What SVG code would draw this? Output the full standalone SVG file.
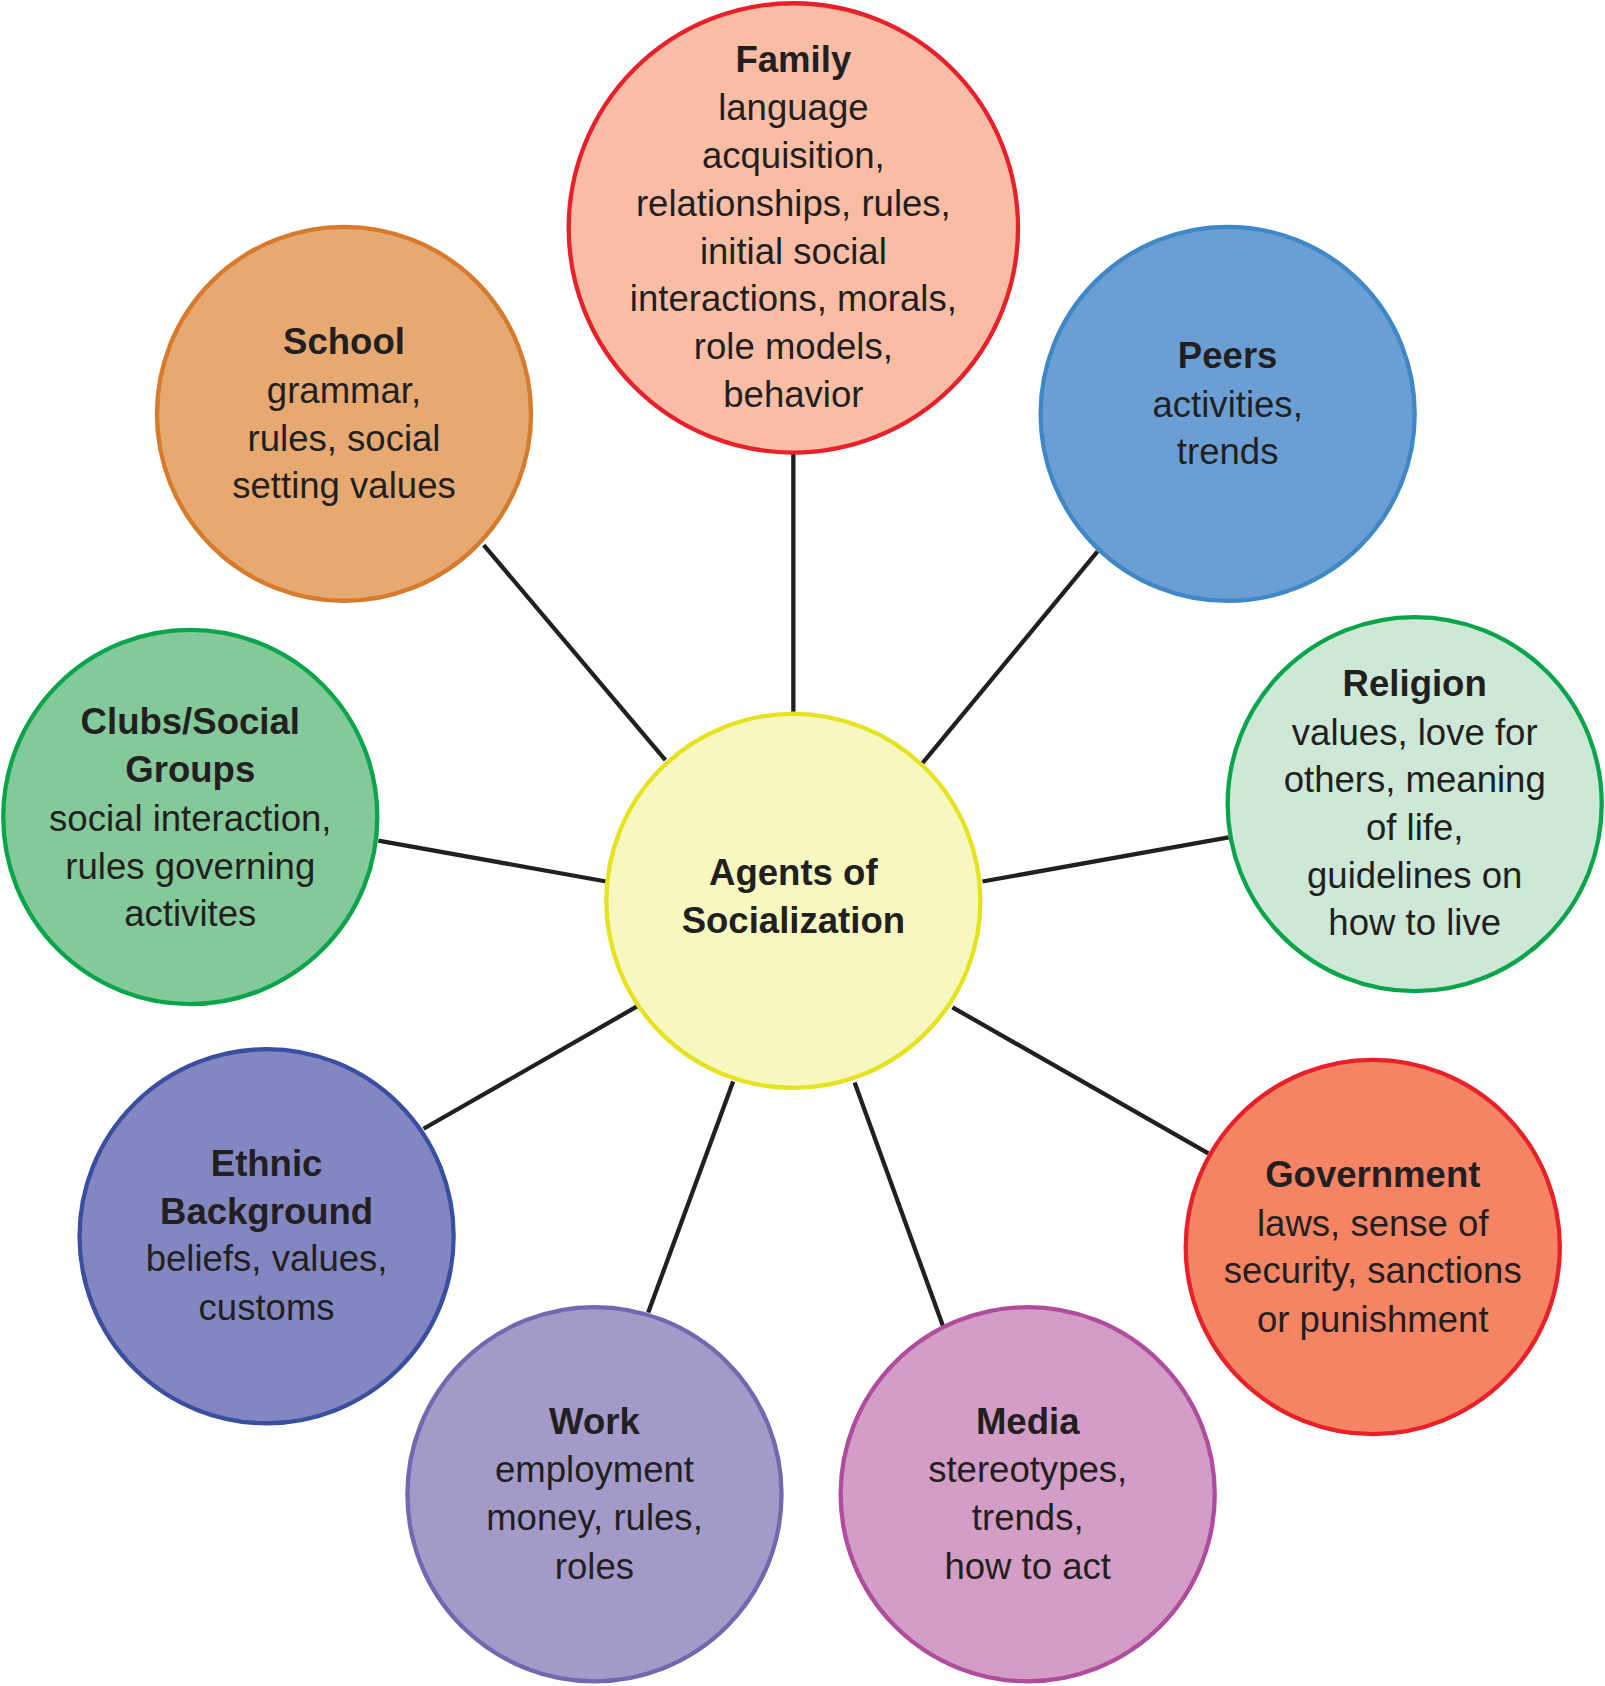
<svg xmlns="http://www.w3.org/2000/svg" width="1605" height="1686" viewBox="0 0 1605 1686">
<style>
text{font-family:"Liberation Sans",Arial,sans-serif;font-size:34px;fill:#231f20;text-anchor:middle;dominant-baseline:central}
.b{font-weight:bold}
circle{stroke-width:4}
#connectors line{stroke:#231f20;stroke-width:4}
</style>
<rect width="1605" height="1686" fill="#fff"/>
<g transform="scale(1.075)">
<g id="connectors">
<line x1="738" y1="422" x2="738" y2="662"/>
<line x1="450" y1="507" x2="619" y2="707"/>
<line x1="1021" y1="513" x2="858" y2="710"/>
<line x1="352" y1="782" x2="564" y2="820"/>
<line x1="1143" y1="779" x2="914" y2="820"/>
<line x1="394" y1="1050" x2="593" y2="936"/>
<line x1="1124" y1="1073" x2="886" y2="937"/>
<line x1="603" y1="1221" x2="682" y2="1006"/>
<line x1="877" y1="1233" x2="795" y2="1007"/>
</g>
<g id="center"><circle cx="738" cy="838" r="174" fill="#f7f7c0" stroke="#e6e21f"/>
<text class="b" x="738" y="812">Agents of</text><text class="b" x="738" y="856">Socialization</text></g>
<g id="family"><circle cx="738" cy="212" r="209" fill="#f9bca5" stroke="#e8202a"/>
<text class="b" x="738" y="55">Family</text><text x="738" y="100">language</text><text x="738" y="145">acquisition,</text><text x="738" y="189">relationships, rules,</text><text x="738" y="234">initial social</text><text x="738" y="278">interactions, morals,</text><text x="738" y="322">role models,</text><text x="738" y="367">behavior</text></g>
<g id="school"><circle cx="320" cy="385" r="174" fill="#e6a972" stroke="#d77a2b"/>
<text class="b" x="320" y="318">School</text><text x="320" y="363">grammar,</text><text x="320" y="408">rules, social</text><text x="320" y="452">setting values</text></g>
<g id="peers"><circle cx="1142" cy="385" r="174" fill="#6b9fd4" stroke="#3f87c7"/>
<text class="b" x="1142" y="331">Peers</text><text x="1142" y="376">activities,</text><text x="1142" y="420">trends</text></g>
<g id="clubs"><circle cx="177" cy="760" r="174" fill="#84c99a" stroke="#0aa54b"/>
<text class="b" x="177" y="671">Clubs/Social</text><text class="b" x="177" y="716">Groups</text><text x="177" y="761">social interaction,</text><text x="177" y="806">rules governing</text><text x="177" y="850">activites</text></g>
<g id="religion"><circle cx="1316" cy="748" r="174" fill="#cde8d7" stroke="#0aa54b"/>
<text class="b" x="1316" y="636">Religion</text><text x="1316" y="681">values, love for</text><text x="1316" y="725">others, meaning</text><text x="1316" y="770">of life,</text><text x="1316" y="814">guidelines on</text><text x="1316" y="858">how to live</text></g>
<g id="ethnic"><circle cx="248" cy="1150" r="174" fill="#8286c1" stroke="#3a4fa0"/>
<text class="b" x="248" y="1082">Ethnic</text><text class="b" x="248" y="1127">Background</text><text x="248" y="1171">beliefs, values,</text><text x="248" y="1216">customs</text></g>
<g id="government"><circle cx="1277" cy="1160" r="174" fill="#f48464" stroke="#e8202a"/>
<text class="b" x="1277" y="1093">Government</text><text x="1277" y="1138">laws, sense of</text><text x="1277" y="1182">security, sanctions</text><text x="1277" y="1227">or punishment</text></g>
<g id="work"><circle cx="553" cy="1390" r="174" fill="#a39aca" stroke="#7467b0"/>
<text class="b" x="553" y="1322">Work</text><text x="553" y="1367">employment</text><text x="553" y="1412">money, rules,</text><text x="553" y="1457">roles</text></g>
<g id="media"><circle cx="956" cy="1390" r="174" fill="#d39dc6" stroke="#b04c9c"/>
<text class="b" x="956" y="1322">Media</text><text x="956" y="1367">stereotypes,</text><text x="956" y="1412">trends,</text><text x="956" y="1457">how to act</text></g>
</g>
</svg>
